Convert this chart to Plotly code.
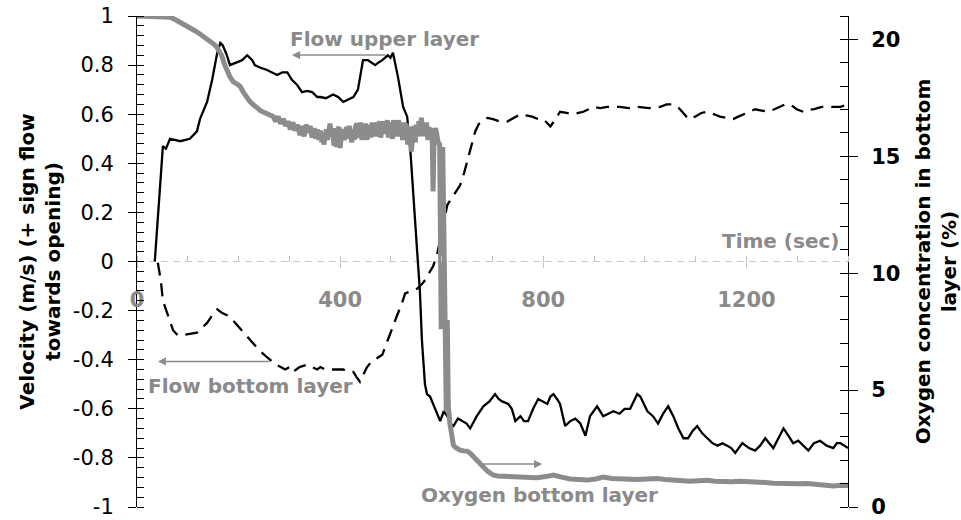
import plotly.graph_objects as go

# ---------------- data ----------------
# Flow in upper layer (m/s) - solid black, left axis
upper_t = [35, 51, 57, 65, 85, 104, 118, 124, 138, 148, 158, 164, 169, 177, 183, 197, 207, 217, 227, 232,
           242, 256, 266, 276, 286, 296, 305, 315, 325, 335, 345, 355, 361, 372, 386, 396, 406, 416, 426, 435,
           445, 455, 469, 475, 483, 494, 499, 504, 514, 524, 532, 538, 544, 552, 557, 561, 567, 571, 577, 583,
           590, 597, 604, 611, 617, 623, 632, 642, 649, 656, 669, 682, 694, 705, 712, 719, 731, 738, 745, 755,
           762, 770, 780, 790, 799, 808, 814, 820, 827, 833, 843, 853, 863, 873, 883, 892, 899, 906, 918, 928,
           938, 950, 960, 971, 978, 985, 991, 998, 1005, 1016, 1026, 1036, 1046, 1056, 1066, 1076, 1085, 1094,
           1103, 1113, 1123, 1133, 1143, 1153, 1162, 1170, 1178, 1185, 1192, 1205, 1217, 1227, 1237, 1245,
           1253, 1263, 1273, 1283, 1292, 1302, 1312, 1322, 1333, 1345, 1358, 1371, 1378, 1385, 1393, 1400]
upper_v = [0.0, 0.47, 0.46, 0.50, 0.49, 0.50, 0.53, 0.58, 0.65, 0.74, 0.85, 0.89, 0.88, 0.84, 0.80, 0.81, 0.82, 0.84, 0.82, 0.80,
           0.79, 0.78, 0.77, 0.76, 0.77, 0.77, 0.74, 0.72, 0.69, 0.695, 0.69, 0.67, 0.67, 0.665, 0.68, 0.67, 0.65, 0.66, 0.67, 0.70,
           0.82, 0.82, 0.80, 0.81, 0.82, 0.84, 0.83, 0.85, 0.75, 0.63, 0.59, 0.46, 0.26, 0.03, -0.12, -0.32, -0.50, -0.54, -0.55, -0.58,
           -0.62, -0.65, -0.61, -0.63, -0.66, -0.67, -0.64, -0.65, -0.66, -0.68, -0.63, -0.59, -0.57, -0.54, -0.56, -0.57, -0.58, -0.60, -0.65, -0.63,
           -0.65, -0.65, -0.60, -0.56, -0.57, -0.58, -0.55, -0.54, -0.56, -0.58, -0.67, -0.65, -0.64, -0.66, -0.71, -0.63, -0.61, -0.59, -0.63, -0.62,
           -0.61, -0.62, -0.60, -0.60, -0.57, -0.54, -0.55, -0.58, -0.61, -0.63, -0.66, -0.62, -0.59, -0.63, -0.68, -0.72, -0.72, -0.69,
           -0.67, -0.70, -0.72, -0.74, -0.75, -0.74, -0.75, -0.76, -0.78, -0.76, -0.74, -0.76, -0.77, -0.75, -0.72, -0.74,
           -0.76, -0.72, -0.68, -0.71, -0.74, -0.73, -0.75, -0.77, -0.74, -0.73, -0.75, -0.76, -0.74, -0.74, -0.75, -0.76]

# Flow in bottom layer (m/s) - dashed black, left axis
bottom_t = [41, 47, 51, 61, 71, 80, 89, 104, 118, 128, 138, 148, 158, 168, 178, 189, 206, 223, 240, 256,
            274, 292, 300, 307, 320, 335, 345, 355, 361, 370, 380, 393, 406, 416, 426, 432, 439, 446, 453, 461,
            469, 476, 483, 490, 498, 505, 512, 520, 528, 540, 552, 562, 571, 577, 583, 591, 601, 611, 617, 623,
            630, 636, 644, 652, 659, 666, 673, 680, 690, 701, 715, 729, 742, 755, 766, 778, 790, 800, 807, 814,
            824, 833, 846, 859, 869, 879, 889, 898, 912, 926, 938, 951, 968, 985, 1008, 1030, 1043, 1056, 1065,
            1074, 1080, 1085, 1092, 1099, 1111, 1123, 1136, 1148, 1161, 1174, 1184, 1194, 1205, 1217, 1230, 1243,
            1255, 1267, 1276, 1286, 1299, 1312, 1322, 1332, 1348, 1365, 1375, 1385, 1393, 1400]
bottom_v = [-0.005, -0.08, -0.16, -0.22, -0.28, -0.30, -0.30, -0.295, -0.29, -0.27, -0.25, -0.22, -0.195, -0.21, -0.22, -0.24, -0.28, -0.32, -0.36, -0.39,
            -0.42, -0.44, -0.43, -0.45, -0.43, -0.42, -0.43, -0.44, -0.43, -0.44, -0.44, -0.44, -0.44, -0.45, -0.45, -0.47, -0.49, -0.46, -0.43, -0.41,
            -0.40, -0.39, -0.38, -0.34, -0.30, -0.26, -0.22, -0.18, -0.13, -0.12, -0.11, -0.09, -0.065, -0.04, -0.02, 0.03, 0.13, 0.23, 0.25, 0.27,
            0.29, 0.31, 0.36, 0.42, 0.48, 0.53, 0.56, 0.57, 0.585, 0.58, 0.57, 0.57, 0.585, 0.60, 0.595, 0.59, 0.58, 0.58, 0.565, 0.55,
            0.58, 0.61, 0.605, 0.60, 0.605, 0.61, 0.62, 0.63, 0.625, 0.63, 0.63, 0.63, 0.625, 0.63, 0.625, 0.63, 0.64, 0.64, 0.63,
            0.61, 0.595, 0.58, 0.585, 0.59, 0.605, 0.61, 0.60, 0.59, 0.585, 0.58, 0.59, 0.60, 0.61, 0.62, 0.615, 0.61,
            0.62, 0.63, 0.64, 0.64, 0.62, 0.61, 0.62, 0.62, 0.63, 0.63, 0.63, 0.63, 0.635, 0.63]

# Oxygen concentration in bottom layer (%) - thick grey, right axis
oxy_t = [0, 55, 65, 75, 85, 95, 104, 114, 124, 134, 144, 151, 157, 162, 167, 172, 177, 183, 189, 196,
         203, 209, 216, 222, 229, 233, 238, 243, 248, 253, 258, 263, 268, 273, 278, 283, 288, 293, 297, 302,
         307, 311, 316, 321, 325, 329, 333, 337, 341, 345, 349, 352, 355, 358, 361, 364, 366, 368, 370, 373,
         375, 378, 380, 383, 385, 388, 390, 393, 395, 398, 400, 403, 405, 408, 410, 413, 415, 418, 420, 423,
         425, 428, 430, 433, 435, 438, 440, 443, 445, 448, 450, 453, 455, 458, 460, 463, 465, 468, 470, 473,
         475, 478, 480, 483, 485, 488, 490, 493, 495, 498, 500, 503, 505, 508, 510, 513, 515, 518, 520, 523,
         525, 528, 530, 533, 535, 538, 540, 543, 545, 548, 550, 553, 555, 558, 560, 563, 565, 568, 570, 573,
         575, 578, 581, 583, 585, 588, 591, 593, 596, 599, 602, 605, 607, 609, 611, 613, 616, 619, 623, 627,
         632, 636, 643, 650, 656, 662, 666, 670, 675, 680, 685, 690, 696, 701, 710, 720, 729, 742, 755, 770,
         788, 805, 820, 836, 853, 870, 887, 903, 918, 935, 951, 968, 985, 1004, 1024, 1040, 1056, 1072, 1089,
         1106, 1123, 1138, 1154, 1171, 1188, 1205, 1221, 1237, 1253, 1270, 1286, 1303, 1320, 1336, 1351, 1361,
         1371, 1385, 1400]
oxy_v = [21.0, 21.0, 20.95, 20.85, 20.74, 20.62, 20.5, 20.37, 20.23, 20.08, 19.93, 19.8, 19.67, 19.5, 19.3, 18.95, 18.65, 18.4, 18.2, 18.1,
         18.0, 17.75, 17.5, 17.35, 17.2, 17.15, 17.05, 16.95, 16.9, 16.85, 16.8, 16.75, 16.7, 16.5, 16.7, 16.4, 16.6, 16.3, 16.5, 16.15,
         16.45, 16.1, 16.35, 15.9, 16.3, 15.85, 16.35, 16.0, 16.3, 15.8, 16.2, 15.75, 16.15, 15.7, 16.1, 15.6, 15.9, 15.5, 15.8, 16.15,
         15.7, 16.05, 16.4, 15.85, 16.15, 15.45, 16.2, 15.4, 16.15, 16.25, 15.35, 16.05, 16.15, 15.7, 16.0, 16.25, 15.75, 16.3, 16.0, 15.6,
         16.15, 15.7, 16.25, 16.4, 15.95, 15.8, 16.45, 15.7, 16.25, 16.05, 16.4, 15.7, 16.35, 15.95, 15.8, 16.45, 15.95, 16.35, 15.85, 16.45,
         16.05, 16.5, 15.8, 16.35, 15.95, 16.5, 16.05, 16.55, 15.8, 16.45, 16.2, 15.75, 16.55, 15.95, 16.4, 15.85, 16.55, 16.05, 16.35, 15.7,
         16.45, 15.8, 16.4, 15.5, 16.25, 15.95, 15.2, 16.15, 16.3, 15.6, 16.35, 15.85, 16.5, 16.05, 16.65, 15.85, 16.4, 15.95, 16.45, 15.7,
         16.25, 15.85, 16.2, 13.5, 16.0, 16.2, 15.7, 15.6, 15.5, 7.6, 15.4, 8.4, 6.0, 4.1, 8.0, 4.3, 3.6, 3.2, 2.65, 2.55,
         2.45, 2.43, 2.40, 2.39, 2.3, 2.18, 2.1, 2.0, 1.9, 1.75, 1.65, 1.54, 1.45, 1.37, 1.33, 1.32, 1.3, 1.27, 1.24, 1.26,
         1.25, 1.3, 1.37, 1.28, 1.2, 1.18, 1.15, 1.2, 1.28, 1.22, 1.2, 1.18, 1.18, 1.2, 1.22, 1.18, 1.15, 1.12, 1.1,
         1.12, 1.14, 1.1, 1.07, 1.08, 1.1, 1.1, 1.1, 1.05, 1.02, 1.0, 0.98, 0.99, 1.0, 0.97, 0.94, 0.92,
         0.9, 0.93, 0.92]

# axis ticks and labels
left_tickvals = [-1, -0.8, -0.6, -0.4, -0.2, 0, 0.2, 0.4, 0.6, 0.8, 1]
left_ticktext = ["-1", "-0.8", "-0.6", "-0.4", "-0.2", "0", "0.2", "0.4", "0.6", "0.8", "1"]
right_tickvals = [0, 5, 10, 15, 20]
x_tickvals = [0, 400, 800, 1200]

# annotation texts / positions (data coordinates)
labels = [
    ("Flow upper layer", 487, 0.906),
    ("Flow bottom layer", 223, -0.508),
    ("Oxygen bottom layer", 792, -0.951),
    ("Time (sec)", 1267, 0.085),
]
# arrows: (head_t, head_v, tail_t, tail_v)
arrows = [
    (305, 0.841, 493, 0.841),
    (41, -0.407, 264, -0.407),
    (798, -0.825, 680, -0.825),
]

GREY_TXT = "#8a8a8a"
GREY_LINE = "#8c8c8c"
FONT = "DejaVu Sans"

fig = go.Figure()
fig.add_trace(go.Scatter(x=oxy_t, y=oxy_v, mode="lines", yaxis="y2",
                         line=dict(color=GREY_LINE, width=5), showlegend=False))
fig.add_trace(go.Scatter(x=upper_t, y=upper_v, mode="lines",
                         line=dict(color="black", width=2.3), showlegend=False))
fig.add_trace(go.Scatter(x=bottom_t, y=bottom_v, mode="lines",
                         line=dict(color="black", width=2.3, dash="13px,8px"), showlegend=False))

# dashed zero line used as time axis
fig.add_shape(type="line", xref="x domain", x0=0, x1=1, yref="y", y0=0, y1=0,
              line=dict(color="#c8c8c8", width=1.2, dash="7px,5px"), layer="below")

for txt, tx, ty in labels:
    fig.add_annotation(x=tx, y=ty, xref="x", yref="y", text=txt, showarrow=False,
                       font=dict(family=FONT, size=20, color=GREY_TXT, weight="bold"))
for hx, hy, tx, ty in arrows:
    fig.add_annotation(x=hx, y=hy, ax=tx, ay=ty, xref="x", yref="y", axref="x", ayref="y",
                       text="", showarrow=True, arrowhead=2, arrowsize=1.1, arrowwidth=1.5,
                       arrowcolor=GREY_LINE)

fig.update_layout(
    width=961, height=520,
    margin=dict(l=137, r=113, t=16, b=13, autoexpand=False),
    plot_bgcolor="white", paper_bgcolor="white",
    showlegend=False,
    xaxis=dict(range=[0, 1400], anchor="free", position=0.5, showline=False, showgrid=False,
               zeroline=False, tickvals=x_tickvals, ticks="outside", ticklen=5, tickcolor="#c0c0c0",
               automargin=False,
               tickfont=dict(family=FONT, size=21, color=GREY_TXT, weight="bold"),
               ticklabelstandoff=14,
               minor=dict(dtick=100, tick0=0, ticks="inside", ticklen=6, tickcolor="#c0c0c0", showgrid=False)),
    yaxis=dict(range=[-1, 1], showline=True, linecolor="black", linewidth=1, showgrid=False,
               zeroline=False, tickvals=left_tickvals, ticktext=left_ticktext, automargin=False,
               ticks="outside", ticklen=8, tickcolor="black", ticklabeloverflow="allow",
               ticklabelstandoff=10,
               tickfont=dict(family=FONT, size=21, color="black"),
               minor=dict(dtick=0.04, tick0=0, ticks="inside", ticklen=7, tickcolor="black", showgrid=False),
               title=dict(text="Velocity (m/s) (+ sign flow<br>towards opening)", standoff=6,
                          font=dict(family=FONT, size=20, color="black", weight="bold"))),
    yaxis2=dict(range=[0, 21], overlaying="y", side="right", anchor="x", showline=True, linecolor="black",
                linewidth=1, showgrid=False, zeroline=False, tickvals=right_tickvals, automargin=False,
                ticks="outside", ticklen=9, tickcolor="black", ticklabeloverflow="allow",
                ticklabelstandoff=9,
                tickfont=dict(family=FONT, size=21, color="black", weight="bold"),
                minor=dict(dtick=1, tick0=0, ticks="inside", ticklen=8, tickcolor="black", showgrid=False),
                title=dict(text="Oxygen concentration in bottom<br>layer (%)", standoff=16,
                           font=dict(family=FONT, size=20, color="black", weight="bold"))),
)

fig.write_html("out.html")
